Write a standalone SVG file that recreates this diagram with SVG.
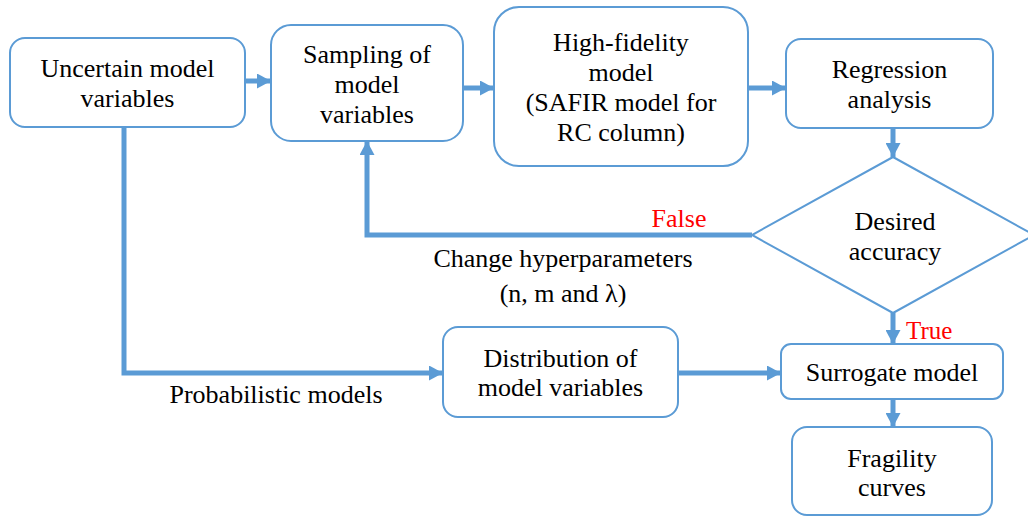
<svg xmlns="http://www.w3.org/2000/svg" width="1028" height="517" viewBox="0 0 1028 517">
<style>
.box{fill:#fff;stroke:#5B9BD5;stroke-width:2}
.t{font-family:'Liberation Serif','Times New Roman',serif;font-size:26px;fill:#000;text-anchor:middle}
.red{font-family:'Liberation Serif','Times New Roman',serif;fill:#FF0000}
.c{fill:none;stroke:#5B9BD5;stroke-width:5;stroke-linejoin:miter}
</style>
<defs>
<marker id="ah" markerUnits="userSpaceOnUse" markerWidth="15" markerHeight="15" refX="14" refY="7.5" orient="auto">
<path d="M0,0 L14,7.5 L0,15 z" fill="#5B9BD5"/>
</marker>
</defs>
<rect width="1028" height="517" fill="#fff"/>
<g id="connectors">
<path class="c" d="M245,81 H271" marker-end="url(#ah)"/>
<path class="c" d="M463,88 H494" marker-end="url(#ah)"/>
<path class="c" d="M749,88 H786" marker-end="url(#ah)"/>
<path class="c" d="M893,128 V157" marker-end="url(#ah)"/>
<path class="c" d="M752,235 H367 V141" marker-end="url(#ah)"/>
<path class="c" d="M124,127 V373 H443" marker-end="url(#ah)"/>
<path class="c" d="M678,373 H781" marker-end="url(#ah)"/>
<path class="c" d="M893,313 V344" marker-end="url(#ah)"/>
<path class="c" d="M893,399 V427" marker-end="url(#ah)"/>
<text class="red" x="679" y="227" font-size="26" text-anchor="middle">False</text>
<text class="red" x="906" y="339" font-size="25">True</text>
<text class="t" x="563" y="267">Change hyperparameters</text>
<text class="t" x="563" y="302">(n, m and λ)</text>
<text class="t" x="276" y="403">Probabilistic models</text>
</g>
<g id="uncertain">
<rect class="box" x="10" y="38" width="235" height="89" rx="15"/>
<text class="t" x="127.5" y="77">Uncertain model</text>
<text class="t" x="127.5" y="107">variables</text>
</g>
<g id="sampling">
<rect class="box" x="271" y="25" width="192" height="116" rx="20"/>
<text class="t" x="367" y="63">Sampling of</text>
<text class="t" x="367" y="93">model</text>
<text class="t" x="367" y="123">variables</text>
</g>
<g id="highfidelity">
<rect class="box" x="494" y="7" width="254" height="159" rx="25"/>
<text class="t" x="621" y="51">High-fidelity</text>
<text class="t" x="621" y="81">model</text>
<text class="t" x="621" y="111">(SAFIR model for</text>
<text class="t" x="621" y="141">RC column)</text>
</g>
<g id="regression">
<rect class="box" x="786" y="39" width="207" height="89" rx="15"/>
<text class="t" x="889.5" y="78">Regression</text>
<text class="t" x="889.5" y="108">analysis</text>
</g>
<g id="decision">
<polygon class="box" points="893,157 1034,235 893,313 752,235"/>
<text class="t" x="895" y="230">Desired</text>
<text class="t" x="895" y="260">accuracy</text>
</g>
<g id="distribution">
<rect class="box" x="443" y="327" width="235" height="90" rx="15"/>
<text class="t" x="560.5" y="367">Distribution of</text>
<text class="t" x="560.5" y="396">model variables</text>
</g>
<g id="surrogate">
<rect class="box" x="781" y="344" width="222" height="55" rx="10"/>
<text class="t" x="892" y="381">Surrogate model</text>
</g>
<g id="fragility">
<rect class="box" x="792" y="427" width="200" height="88" rx="15"/>
<text class="t" x="892" y="467">Fragility</text>
<text class="t" x="892" y="496">curves</text>
</g>
</svg>
